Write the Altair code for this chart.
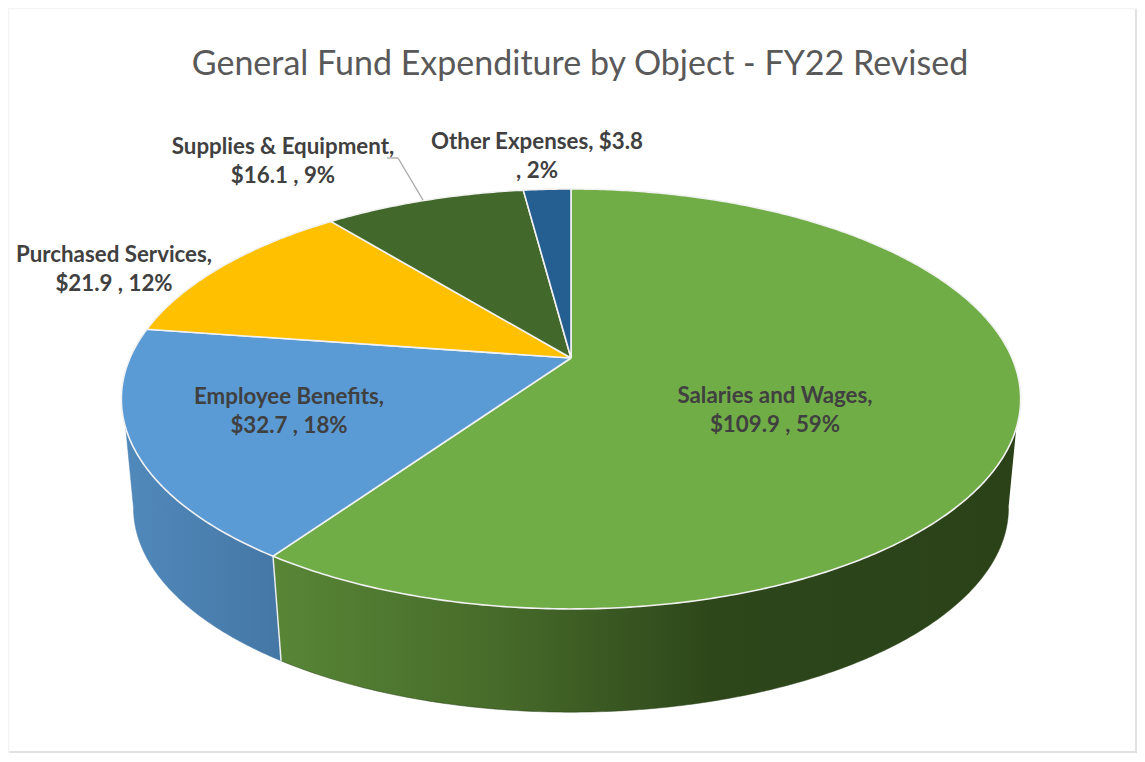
import math
import altair as alt
import pandas as pd

TITLE = "General Fund Expenditure by Object - FY22 Revised"
categories = ["Salaries and Wages", "Employee Benefits", "Purchased Services", "Supplies & Equipment", "Other Expenses"]
amounts = [109.9, 32.7, 21.9, 16.1, 3.8]
percents = [59, 18, 12, 9, 2]
top_colors = ["#70ad47", "#5b9bd5", "#ffc000", "#43682b", "#255e91"]
label_texts = [
    "Salaries and Wages,\n$109.9 , 59%",
    "Employee Benefits,\n$32.7 , 18%",
    "Purchased Services,\n$21.9 , 12%",
    "Supplies & Equipment,\n$16.1 , 9%",
    "Other Expenses, $3.8\n, 2%",
]
label_px = [(775, 396), (289, 397), (114, 255), (283, 147), (537, 142)]

W, H = 1129, 745
AX, AY = 563, 350          # pie apex inside the plot
K, A, B = 0.195, 441.0, 202.0   # perspective of the tilted disc
F, DROP = 0.973, 110.0     # lower rim: scale and drop


def rim(theta, lower=False):
    s, c = math.sin(theta), math.cos(theta)
    w = 1 + K * c
    x, y = A * s / w, B * c / w
    if lower:
        x, y = x * F, y * F - DROP
    return x, y


def arc(t0, t1, lower=False):
    n = max(2, int(abs(t1 - t0) / 0.01))
    return [rim(t0 + (t1 - t0) * i / n, lower) for i in range(n + 1)]


def frame(points):
    return pd.DataFrame({"x": [p[0] for p in points], "y": [p[1] for p in points], "i": range(len(points))})


xs = alt.Scale(domain=[-AX, W - AX], range=[0, W], nice=False, zero=False)
ys = alt.Scale(domain=[AY - H, AY], range=[H, 0], nice=False, zero=False)
enc = dict(
    x=alt.X("x:Q", scale=xs, axis=None),
    y=alt.Y("y:Q", scale=ys, axis=None),
    order=alt.Order("i:Q"),
)

total = sum(amounts)
edges = [0.0]
for v in amounts:
    edges.append(edges[-1] + v / total * 2 * math.pi)

seam = edges[1]
start = math.radians(109)
low_start = math.radians(101.2)


def grad(stops):
    return alt.Gradient(
        gradient="linear", x1=0, x2=1, y1=0, y2=0,
        stops=[alt.GradientStop(offset=o, color=c) for o, c in stops],
    )


layers = []

# border
for xa, xb, ya, yb, col in [
    (W - 1, W - 1, 0, H, "#d9d9d9"),
    (0, W, H - 1, H - 1, "#d9d9d9"),
    (0.5, 0.5, 0, H, "#f4f4f4"),
    (0, W, 0.5, 0.5, "#f4f4f4"),
]:
    layers.append(
        alt.Chart(pd.DataFrame({"k": [0]})).mark_rule(color=col, strokeWidth=1.5).encode(
            x=alt.value(xa), x2=alt.value(xb), y=alt.value(ya), y2=alt.value(yb)
        )
    )

# side walls
wall_green = arc(start, seam) + arc(seam, low_start, True)
wall_blue = arc(seam, 2 * math.pi - start) + arc(2 * math.pi - low_start, seam, True)
layers.append(
    alt.Chart(frame(wall_blue)).mark_line(
        fill=grad([(0, "#5089bb"), (1, "#4577a5")]), stroke="#4a7fae", strokeWidth=0.5
    ).encode(**enc)
)
layers.append(
    alt.Chart(frame(wall_green)).mark_line(
        fill=grad([(0, "#588636"), (0.3, "#476b2a"), (0.6, "#2d461a"), (1, "#2b4219")]),
        stroke="#2b4219", strokeWidth=0.5,
    ).encode(**enc)
)
layers.append(
    alt.Chart(frame([rim(seam), rim(seam, True)])).mark_line(color="#e8eef2", strokeWidth=1.5).encode(**enc)
)

# top faces
for i, col in enumerate(top_colors):
    pts = [(0.0, 0.0)] + arc(edges[i], edges[i + 1]) + [(0.0, 0.0)]
    layers.append(
        alt.Chart(frame(pts)).mark_line(fill=col, stroke="#f2f2f2", strokeWidth=1.6, strokeJoin="round").encode(**enc)
    )

# leader line
for xa, ya, xb, yb in [(379, 150, 390, 150), (390, 150, 415, 192)]:
    layers.append(
        alt.Chart(pd.DataFrame({"k": [0]})).mark_rule(color="#a6a6a6", strokeWidth=1.3).encode(
            x=alt.value(xa), x2=alt.value(xb), y=alt.value(ya), y2=alt.value(yb)
        )
    )

# labels
for (t, (px, py)) in zip(label_texts, label_px):
    layers.append(
        alt.Chart(pd.DataFrame({"t": [t]})).mark_text(
            font="Lato", fontSize=22.3, fontWeight="bold", color="#404040",
            lineBreak="\n", lineHeight=29, align="center", baseline="middle",
        ).encode(text="t:N", x=alt.value(px - 8), y=alt.value(py - 8))
    )

# title
layers.append(
    alt.Chart(pd.DataFrame({"t": [TITLE]})).mark_text(
        font="Lato", fontSize=34, color="#595959", align="center", baseline="middle",
    ).encode(text="t:N", x=alt.value(572), y=alt.value(57))
)

chart = alt.layer(*layers).properties(
    width=W, height=H, padding=0, autosize=alt.AutoSizeParams(type="none"), background="white"
).configure_view(stroke=None)

chart.save("out.html", embed_options={"renderer": "svg", "actions": False})
